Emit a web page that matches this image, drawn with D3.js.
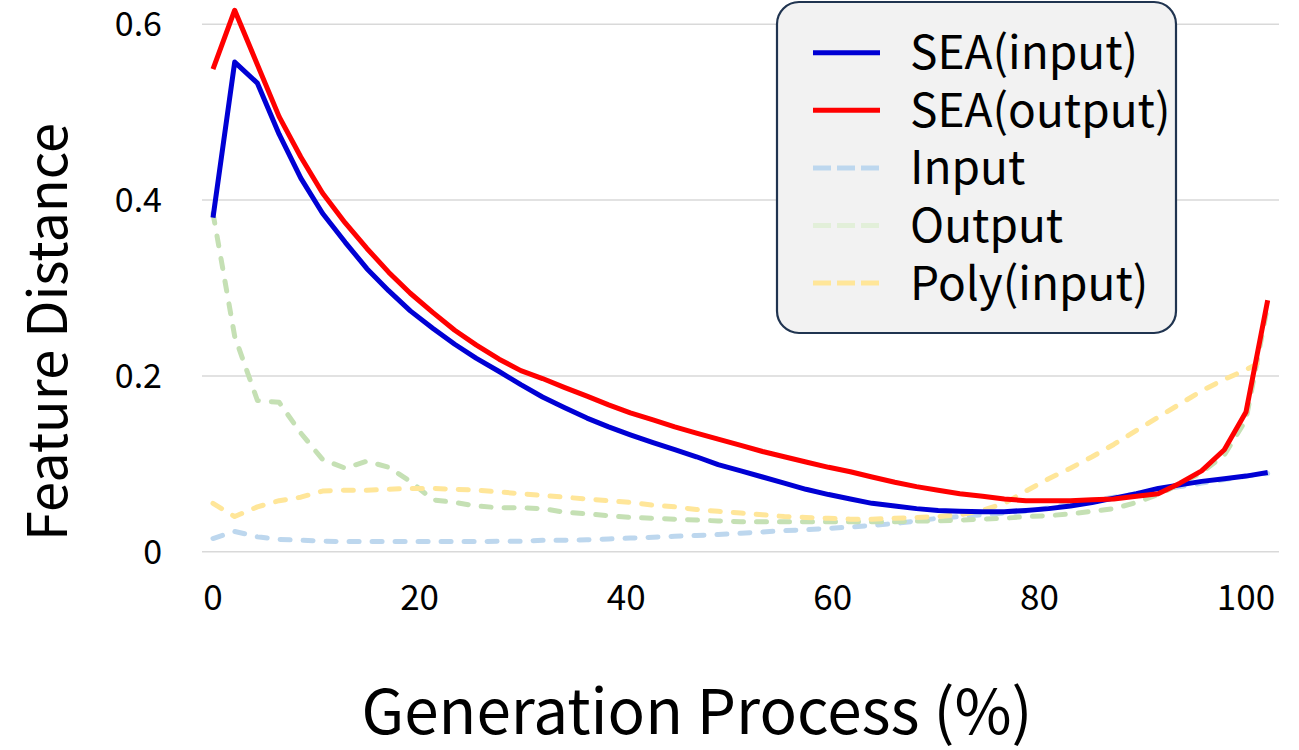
<!DOCTYPE html>
<html>
<head>
<meta charset="utf-8">
<script src="https://cdn.jsdelivr.net/npm/d3@7"></script>
<style>
  body { margin: 0; background: #fff; }
  text { font-family: "Noto Sans CJK KR", "Noto Sans", sans-serif; fill: #000; }
</style>
</head>
<body>
<div id="chart"></div>
<script>
// generation progress (%) for each sampled step
var steps = [0, 2.1, 4.3, 6.4, 8.5, 10.6, 12.8, 14.9, 17.0, 19.1, 21.3, 23.4, 25.5,
  27.7, 29.8, 31.9, 34.0, 36.2, 38.3, 40.4, 42.6, 44.7, 46.8, 48.9, 51.1, 53.2,
  55.3, 57.4, 59.6, 61.7, 63.8, 66.0, 68.1, 70.2, 72.3, 74.5, 76.6, 78.7, 80.9,
  83.0, 85.1, 87.2, 89.4, 91.5, 93.6, 95.7, 97.9, 100.0, 102.1];

var sea_input = [0.380, 0.557, 0.533, 0.475, 0.425, 0.385, 0.352, 0.322, 0.297,
  0.274, 0.254, 0.236, 0.220, 0.205, 0.190, 0.176, 0.164, 0.152, 0.142, 0.133,
  0.124, 0.116, 0.108, 0.099, 0.092, 0.085, 0.078, 0.071, 0.065, 0.060, 0.055,
  0.052, 0.049, 0.047, 0.046, 0.0455, 0.0455, 0.047, 0.049, 0.052, 0.056, 0.061,
  0.066, 0.072, 0.076, 0.080, 0.083, 0.086, 0.090];

var sea_output = [0.549, 0.616, 0.554, 0.495, 0.449, 0.408, 0.374, 0.345, 0.318,
  0.294, 0.272, 0.252, 0.235, 0.219, 0.206, 0.197, 0.187, 0.177, 0.167, 0.158,
  0.150, 0.142, 0.135, 0.128, 0.121, 0.114, 0.108, 0.102, 0.096, 0.091, 0.085,
  0.079, 0.074, 0.070, 0.066, 0.063, 0.060, 0.058, 0.058, 0.058, 0.059, 0.060,
  0.063, 0.066, 0.078, 0.092, 0.116, 0.159, 0.286];

var input_dist = [0.015, 0.023, 0.017, 0.014, 0.013, 0.012, 0.0115, 0.0115, 0.0115,
  0.0115, 0.0115, 0.0115, 0.0115, 0.012, 0.012, 0.013, 0.013, 0.0135, 0.0145,
  0.0155, 0.0165, 0.0175, 0.0185, 0.0195, 0.021, 0.0225, 0.024, 0.025, 0.0265,
  0.028, 0.030, 0.032, 0.035, 0.038, 0.040, 0.042, 0.044, 0.046, 0.050, 0.054,
  0.058, 0.062, 0.066, 0.070, 0.074, 0.078, 0.082, 0.086, 0.089];

var output_dist = [0.385, 0.245, 0.172, 0.170, 0.135, 0.105, 0.095, 0.103, 0.096,
  0.080, 0.059, 0.056, 0.052, 0.050, 0.050, 0.049, 0.045, 0.043, 0.041, 0.039,
  0.038, 0.037, 0.036, 0.035, 0.034, 0.034, 0.034, 0.034, 0.034, 0.034, 0.034,
  0.034, 0.035, 0.035, 0.036, 0.037, 0.038, 0.040, 0.041, 0.043, 0.046, 0.049,
  0.056, 0.065, 0.077, 0.090, 0.110, 0.150, 0.280];

var poly_input = [0.055, 0.040, 0.051, 0.058, 0.062, 0.069, 0.070, 0.070, 0.071,
  0.072, 0.072, 0.071, 0.070, 0.068, 0.066, 0.064, 0.062, 0.060, 0.058, 0.056,
  0.053, 0.051, 0.048, 0.046, 0.044, 0.042, 0.040, 0.039, 0.038, 0.037, 0.037,
  0.038, 0.039, 0.040, 0.042, 0.047, 0.055, 0.069, 0.083, 0.095, 0.108, 0.122,
  0.138, 0.153, 0.168, 0.183, 0.196, 0.207, 0.220];

var series_names = ["SEA(input)", "SEA(output)", "Input", "Output", "Poly(input)"];
var series_colors = ["#0000d4", "#ff0000", "#bdd7ee", "#c5e0b4", "#ffe699"];
var legend_colors = ["#0000d4", "#ff0000", "#bdd7ee", "#e2efd9", "#ffe699"];
var series_dashed = [false, false, true, true, true];

var x_ticks = [0, 20, 40, 60, 80, 100];
var y_ticks = [0, 0.2, 0.4, 0.6];
var y_tick_str = ["0", "0.2", "0.4", "0.6"];

var width = 1299;
var height = 750;

var svg = d3
  .select("#chart")
  .append("svg")
  .attr("width", width)
  .attr("height", height);

var x = d3.scaleLinear().domain([0, 100]).range([213, 1246]);
var y = d3.scaleLinear().domain([0, 0.6]).range([551.7, 24.3]);

// horizontal grid lines
svg
  .append("g")
  .selectAll("line")
  .data(y_ticks)
  .enter()
  .append("line")
  .attr("x1", 202)
  .attr("x2", 1279)
  .attr("y1", (d) => y(d))
  .attr("y2", (d) => y(d))
  .attr("stroke", "#d9d9d9")
  .attr("stroke-width", 1.5);

// y tick labels
svg
  .append("g")
  .selectAll("text")
  .data(y_ticks)
  .enter()
  .append("text")
  .attr("x", 162)
  .attr("y", (d) => y(d))
  .attr("dy", "0.35em")
  .attr("text-anchor", "end")
  .style("font-size", "34px")
  .text((d, i) => y_tick_str[i]);

// x tick labels
svg
  .append("g")
  .selectAll("text")
  .data(x_ticks)
  .enter()
  .append("text")
  .attr("x", (d) => x(d))
  .attr("y", 598)
  .attr("dy", "0.35em")
  .attr("text-anchor", "middle")
  .style("font-size", "35px")
  .text((d) => d);

// axis titles
svg
  .append("text")
  .attr("x", 697)
  .attr("y", 734)
  .attr("text-anchor", "middle")
  .style("font-size", "62px")
  .text("Generation Process (%)");

svg
  .append("text")
  .attr("transform", "translate(48,332) rotate(-90)")
  .attr("dy", "0.35em")
  .attr("text-anchor", "middle")
  .style("font-size", "54px")
  .text("Feature Distance");

// lines: dashed ones first, solid on top
var all_values = [sea_input, sea_output, input_dist, output_dist, poly_input];
var line = d3
  .line()
  .x((d, i) => x(steps[i]))
  .y((d) => y(d));

var draw_order = [2, 3, 4, 0, 1];
for (var k in draw_order) {
  var s = draw_order[k];
  svg
    .append("path")
    .datum(all_values[s])
    .attr("fill", "none")
    .attr("stroke", series_colors[s])
    .attr("stroke-width", 5)
    .attr("stroke-dasharray", series_dashed[s] ? "10,13" : null)
    .attr("stroke-linecap", series_dashed[s] ? "round" : "butt")
    .attr("stroke-linejoin", "round")
    .attr("d", line);
}

// legend box
var legend = svg.append("g");
legend
  .append("rect")
  .attr("x", 777)
  .attr("y", 2)
  .attr("width", 399)
  .attr("height", 331)
  .attr("rx", 22)
  .attr("fill", "#f2f2f2")
  .attr("stroke", "#203450")
  .attr("stroke-width", 2.2);

for (var i in series_names) {
  var ly = 52.7 + i * 57.6;
  legend
    .append("line")
    .attr("x1", 813)
    .attr("x2", 880)
    .attr("y1", ly)
    .attr("y2", ly)
    .attr("stroke", legend_colors[i])
    .attr("stroke-width", 5)
    .attr("stroke-dasharray", series_dashed[i] ? "18,6" : null);
  legend
    .append("text")
    .attr("x", 910)
    .attr("y", ly)
    .attr("dy", "0.36em")
    .style("font-size", "46px")
    .text(series_names[i]);
}
</script>
</body>
</html>
